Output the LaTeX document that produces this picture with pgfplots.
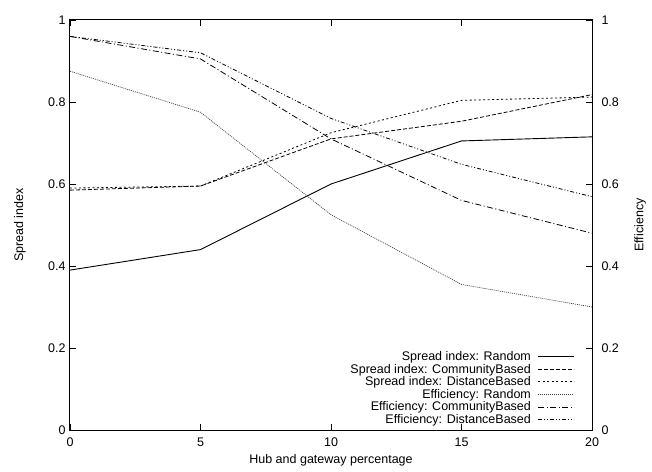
\documentclass[border=0pt]{standalone}
\usepackage{pgfplots}
\pgfplotsset{compat=1.18}
\usepackage{fontspec}
\setmainfont{Liberation Sans}
\begin{document}
\begin{tikzpicture}[font=\fontsize{12.5}{14}\selectfont]
\path[use as bounding box] (-70pt,-41pt) rectangle (582pt,430pt);
\pgfplotsset{
  every axis/.append style={
    scale only axis, width=522pt, height=410pt,
    xmin=0, xmax=20, ymin=0, ymax=1,
    /pgf/number format/assume math mode=true,
    tick align=inside, major tick length=6pt,
    axis line style={line width=1pt},
    every tick/.style={black, line width=0.8pt},
    tick label style={font=\fontsize{12.5}{14}\selectfont},
    label style={font=\fontsize{12.5}{14}\selectfont},
  },
}
\begin{axis}[
  at={(0pt,0pt)}, anchor=south west,
  xtick={0,5,10,15,20}, ytick={0,0.2,0.4,0.6,0.8,1},
  xtick pos=both, ytick pos=left,
  xticklabel style={yshift=-4pt},
  yticklabel style={xshift=-1pt},
  xlabel={Hub and gateway percentage}, ylabel={Spread index},
  xlabel style={at={(axis description cs:0.5,-0.073)}, anchor=center},
  ylabel style={at={(axis description cs:-0.096,0.5)}, anchor=center, rotate=0},
  legend cell align=right, legend plot pos=right,
  legend style={at={(1,0)}, anchor=south east, xshift=-17pt, yshift=3pt,
    draw=none, fill=none, row sep=-2pt, font=\fontsize{12.5}{14}\selectfont,
    inner sep=0pt},
  legend image code/.code={\path (0pt,0pt); \draw[#1] (5pt,0pt) -- (41pt,0pt);},
]
\addplot[black, line width=0.9pt] coordinates {(0,0.39) (5,0.44) (10,0.60) (15,0.705) (20,0.715)};
\addlegendentry{Spread index: Random}
\addplot[black, line width=0.8pt, dash pattern=on 4pt off 2pt] coordinates {(0,0.585) (5,0.595) (10,0.71) (15,0.753) (20,0.818)};
\addlegendentry{Spread index: CommunityBased}
\addplot[black, line width=0.8pt, dash pattern=on 2pt off 2.5pt] coordinates {(0,0.59) (5,0.595) (10,0.725) (15,0.804) (20,0.812)};
\addlegendentry{Spread index: DistanceBased}
\addplot[black!75, line width=0.7pt, dash pattern=on 1pt off 1pt] coordinates {(0,0.875) (5,0.775) (10,0.525) (15,0.355) (20,0.30)};
\addlegendentry{Efficiency: Random}
\addplot[black, line width=0.8pt, dash pattern=on 6pt off 2.5pt on 1pt off 2.5pt] coordinates {(0,0.96) (5,0.905) (10,0.71) (15,0.56) (20,0.48)};
\addlegendentry{Efficiency: CommunityBased}
\addplot[black, line width=0.8pt, dash pattern=on 4pt off 2pt on 1pt off 2pt on 1pt off 2pt] coordinates {(0,0.96) (5,0.92) (10,0.76) (15,0.648) (20,0.569)};
\addlegendentry{Efficiency: DistanceBased}
\end{axis}
\begin{axis}[
  at={(0pt,0pt)}, anchor=south west,
  axis x line=none, axis y line*=right,
  ytick={0,0.2,0.4,0.6,0.8,1},
  yticklabel style={xshift=6pt},
  ylabel={Efficiency},
  ylabel style={at={(axis description cs:1.092,0.5)}, anchor=center, rotate=0},
]
\end{axis}
\end{tikzpicture}
\end{document}
